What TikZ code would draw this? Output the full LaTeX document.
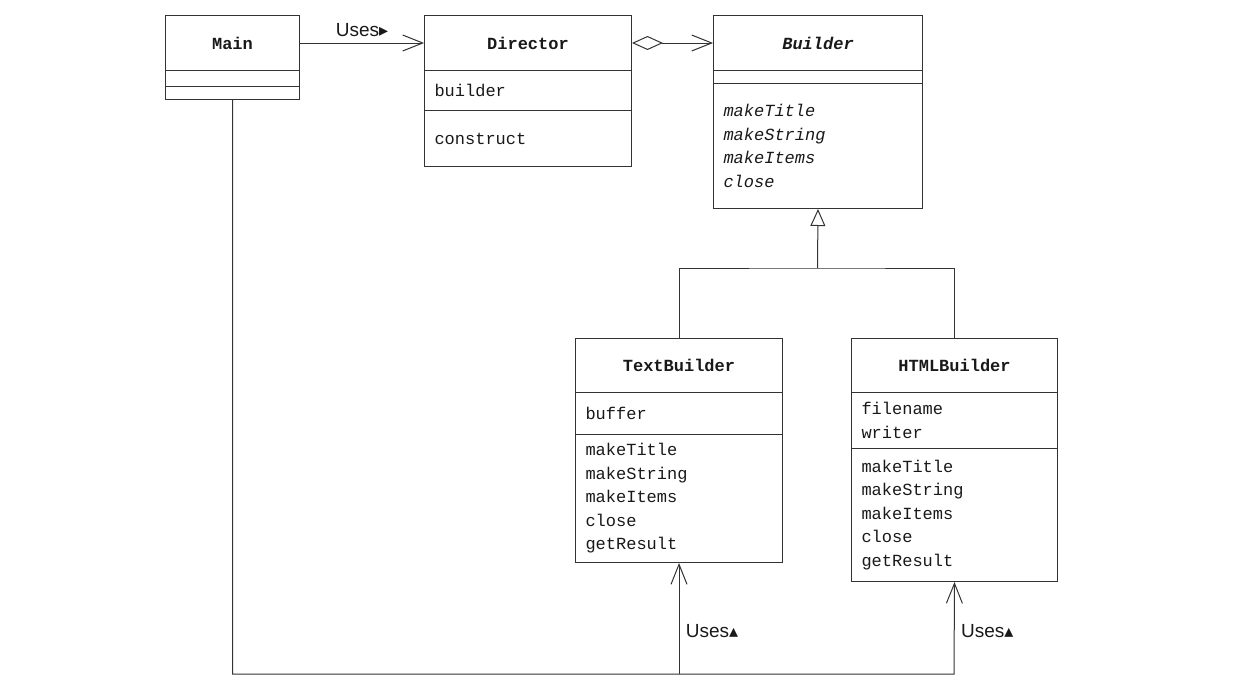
\documentclass[tikz,border=0pt]{standalone}
\usepackage{fontspec}
\setmainfont{Liberation Serif}
\setsansfont{Liberation Sans}
\setmonofont{Liberation Mono}
\newfontfamily\symfont{DejaVu Sans}
\usetikzlibrary{arrows.meta}

\newcommand{\umlfont}{\ttfamily\fontsize{17}{23.5}\selectfont}
\newcommand{\rtri}{{\symfont\fontsize{18}{18}\selectfont ▸}}
\newcommand{\utri}{{\symfont\fontsize{18}{18}\selectfont ▴}}

\tikzset{
  uml/.style={draw=black!80, line width=1pt, anchor=north west,
    inner ysep=0pt, inner xsep=10pt, font=\umlfont, text=black!90},
  classname/.style={uml, font=\umlfont\bfseries, align=center},
  members/.style={uml, align=left},
  link/.style={draw=black!80, line width=1pt},
  usesarrow/.style={link, -{Straight Barb[length=20pt,width=16pt]}},
  usesnote/.style={font=\sffamily\fontsize{19}{22}\selectfont, text=black!90}
}

\begin{document}
\begin{tikzpicture}[x=1pt,y=-1pt]
  \useasboundingbox (0,0) rectangle (1248,688);
  % Main
  \node[classname, text width=114pt, minimum height=55pt] (mainname) at (165,15) {Main};
  \node[members, text width=114pt, minimum height=16pt] (mainattr) at (165,70) {};
  \node[members, text width=114pt, minimum height=13pt] (mainops) at (165,86) {};
  % Director
  \node[classname, text width=187pt, minimum height=55pt] (dirname) at (424,15) {Director};
  \node[members, text width=187pt, minimum height=40pt] (dirattr) at (424,70) {builder};
  \node[members, text width=187pt, minimum height=56pt] (dirops) at (424,110) {construct};
  % Builder (abstract)
  \node[classname, font=\umlfont\bfseries\itshape, text width=189pt, minimum height=55pt] (bldname) at (713,15) {Builder};
  \node[members, text width=189pt, minimum height=13pt] (bldattr) at (713,70) {};
  \node[members, font=\umlfont\itshape, text width=189pt, minimum height=125pt] (bldops) at (713,83)
    {makeTitle\\makeString\\makeItems\\close};
  % TextBuilder
  \node[classname, text width=187pt, minimum height=54pt] (tbname) at (575,338) {TextBuilder};
  \node[members, text width=187pt, minimum height=42pt] (tbattr) at (575,392) {buffer};
  \node[members, text width=187pt, minimum height=128pt] (tbops) at (575,434)
    {makeTitle\\makeString\\makeItems\\close\\getResult};
  % HTMLBuilder
  \node[classname, text width=186pt, minimum height=54pt] (hbname) at (851,338) {HTMLBuilder};
  \node[members, text width=186pt, minimum height=56pt] (hbattr) at (851,392) {filename\\writer};
  \node[members, text width=186pt, minimum height=133pt] (hbops) at (851,448)
    {makeTitle\\makeString\\makeItems\\close\\getResult};

  % associations
  \draw[usesarrow] (mainname.east) -- node[usesnote, above=2pt]{Uses\rtri} (dirname.west);
  \draw[link, {Diamond[open,length=31pt,width=14pt]}-{Straight Barb[length=20pt,width=16pt]}]
    (dirname.east) -- (bldname.west);

  % generalization
  \coordinate (genjoint) at (817.5,268);
  \draw[link] (tbname.north) |- (genjoint) -| (hbname.north);
  \draw[link, -{Triangle[open,length=17pt,width=15pt]}] (genjoint) -- (bldops.south);

  % Main uses the concrete builders
  \coordinate (usebase) at (954,674);
  \draw[usesarrow] (mainops.south) |- (usebase)
    -- node[usesnote, pos=0.47, right=3pt]{Uses\utri} (hbops.south);
  \draw[usesarrow] (tbops.south |- usebase)
    -- node[usesnote, pos=0.39, right=3pt]{Uses\utri} (tbops.south);
\end{tikzpicture}
\end{document}
